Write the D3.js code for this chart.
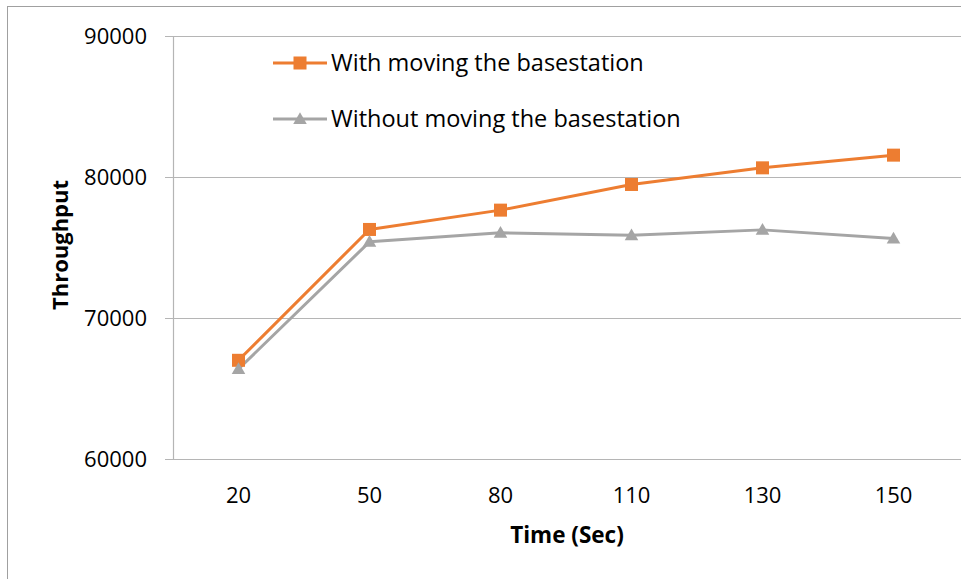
<!DOCTYPE html>
<html><head><meta charset="utf-8">
<script src="https://cdn.jsdelivr.net/npm/d3@7"></script>
<style>body{margin:0;background:#fff}svg{display:block}text{font-family:"Open Sans",Lato,sans-serif;fill:#000}</style>
</head><body>
<svg id="c" width="961" height="579"></svg>
<script>
const categories = ["20","50","80","110","130","150"];
const withMoving = [67000, 76280, 77650, 79470, 80650, 81550];
const withoutMoving = [66380, 75400, 76040, 75870, 76250, 75630];
const yTicks = [60000, 70000, 80000, 90000];
const seriesNames = ["With moving the basestation", "Without moving the basestation"];
const colors = ["#ED7D31", "#A5A5A5"];

const svg = d3.select("#c");
// outer chart border
svg.append("rect").attr("x",7.5).attr("y",6.5).attr("width",1000).attr("height",1000)
  .attr("fill","none").attr("stroke","#a0a0a0").attr("stroke-width",1);

const L = 173, R = 959, T = 36, B = 459;
const x = d3.scaleBand().domain(categories).range([L, R]);
const y = d3.scaleLinear().domain([60000, 90000]).range([B, T]);

// gridlines
svg.append("g").selectAll("line").data(yTicks).join("line")
  .attr("x1", L-8).attr("x2", 961).attr("y1", d=>y(d)+0.5).attr("y2", d=>y(d)+0.5)
  .attr("stroke","#b5b5b5").attr("stroke-width",1.2);
// y axis line
svg.append("line").attr("x1",L+0.5).attr("x2",L+0.5).attr("y1",T).attr("y2",B)
  .attr("stroke","#b5b5b5").attr("stroke-width",1.2);

// y tick labels
const yAxis = d3.axisLeft(y).tickValues(yTicks).tickFormat(d3.format("d")).tickSize(0).tickPadding(26);
const gy = svg.append("g").attr("transform",`translate(${L},0)`).call(yAxis);
gy.select(".domain").remove();
gy.selectAll("text").style("font-size","22px").attr("fill","#000").attr("dy","0.35em");

// x tick labels
const xAxis = d3.axisBottom(x).tickSize(0).tickPadding(36);
const gx = svg.append("g").attr("transform",`translate(0,${B})`).call(xAxis);
gx.select(".domain").remove();
gx.selectAll("text").style("font-size","22px").attr("fill","#000").attr("dy","0.35em");

// axis titles
svg.append("text").attr("x", 567).attr("y", 535).attr("dy","0.35em").attr("text-anchor","middle")
  .style("font-size","22.5px").style("font-weight","bold").text("Time (Sec)");
svg.append("text").attr("transform","translate(60,245) rotate(-90)").attr("dy","0.35em")
  .attr("text-anchor","middle").style("font-size","22px").style("font-weight","bold").text("Throughput");

const cx = d => x(d) + x.bandwidth()/2;
const line = d3.line().x((d,i)=>cx(categories[i])).y(d=>y(d));
const data = [withMoving, withoutMoving];

data.forEach((vals, si) => {
  svg.append("path").datum(vals).attr("d", line).attr("fill","none")
    .attr("stroke", colors[si]).attr("stroke-width", 3).attr("stroke-linejoin","round");
});
// markers
svg.append("g").selectAll("rect").data(withMoving).join("rect")
  .attr("x",(d,i)=>cx(categories[i])-6.5).attr("y",d=>y(d)-6.5).attr("width",13).attr("height",13)
  .attr("fill",colors[0]);
const tri = d3.symbol().type(d3.symbolTriangle).size(80);
svg.append("g").selectAll("path").data(withoutMoving).join("path")
  .attr("d", tri).attr("transform",(d,i)=>`translate(${cx(categories[i])},${y(d)+1})`)
  .attr("fill",colors[1]);

// legend
const leg = svg.append("g");
const ly = [63, 119];
seriesNames.forEach((n, i) => {
  leg.append("line").attr("x1",273).attr("x2",327).attr("y1",ly[i]).attr("y2",ly[i])
    .attr("stroke",colors[i]).attr("stroke-width",3);
  if (i===0) leg.append("rect").attr("x",300-6.5).attr("y",ly[i]-6.5).attr("width",13).attr("height",13).attr("fill",colors[0]);
  else leg.append("path").attr("d",tri).attr("transform",`translate(300,${ly[i]+1})`).attr("fill",colors[1]);
  leg.append("text").attr("x",331).attr("y",ly[i]).attr("dy","0.35em").style("font-size","23.5px").text(n);
});
</script>
</body></html>
